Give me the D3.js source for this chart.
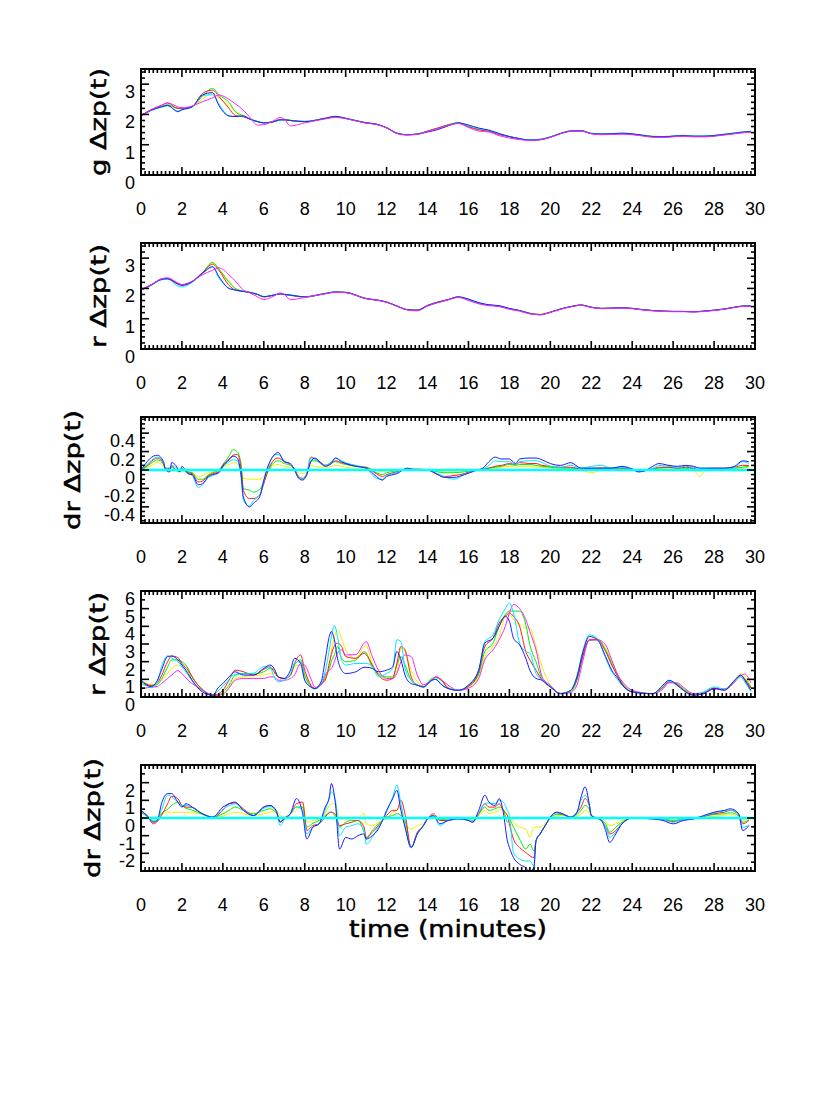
<!DOCTYPE html>
<html><head><meta charset="utf-8">
<script src="https://cdn.jsdelivr.net/npm/d3@7"></script>
<style>body{margin:0;background:#fff}</style>
</head><body>
<svg id="c" width="830" height="1106"></svg>
<script>
// ---------- tick labels ----------
const xTickValues = [0,2,4,6,8,10,12,14,16,18,20,22,24,26,28,30];
const xTickLabels = ["0","2","4","6","8","10","12","14","16","18","20","22","24","26","28","30"];
const yTicksG = [0,1,2,3], yLabelsG = ["0","1","2","3"];
const yTicksDr1 = [-0.4,-0.2,0,0.2,0.4], yLabelsDr1 = ["-0.4","-0.2","0","0.2","0.4"];
const yTicksR2 = [0,1,2,3,4,5,6], yLabelsR2 = ["0","1","2","3","4","5","6"];
const yTicksDr2 = [-2,-1,0,1,2], yLabelsDr2 = ["-2","-1","0","1","2"];
const panelTitles = ["g  \u0394zp(t)","r  \u0394zp(t)","dr  \u0394zp(t)","r  \u0394zp(t)","dr  \u0394zp(t)"];
const xTitle = "time  (minutes)";

// ---------- panel 1 & 2 (g, r) ----------
const t12 = [0,0.5,1,1.3,1.8,2,2.5,3,3.5,3.8,4.3,4.6,5,5.3,5.7,6,6.5,6.8,7,7.3,8,9,9.5,10,11,11.5,12,12.5,13,13.5,14,14.5,15,15.5,16,16.5,17,17.5,18,18.5,19,19.5,20,20.5,21,21.5,22,22.5,23,23.5,24,24.5,25,25.5,26,26.5,27,27.5,28,28.5,29,29.5,29.8];

const p1Blue = [1.95,2.14,2.25,2.3,2.09,2.15,2.25,2.64,2.72,2.3, 1.95,1.93,1.95,1.85,1.76,1.72,1.76,1.82,1.82,1.8, 1.76,1.87,1.93,1.87,1.72,1.68,1.56,1.38,1.33,1.35, 1.42,1.5,1.62,1.72,1.65,1.55,1.48,1.37,1.27,1.2, 1.15,1.17,1.25,1.37,1.45,1.46,1.37,1.35,1.36,1.38, 1.36,1.31,1.27,1.26,1.28,1.3,1.28,1.28,1.3,1.34, 1.38,1.42,1.43];
const p1Cyan = [1.95,2.13,2.24,2.28,2.12,2.16,2.25,2.62,2.65,2.35, 1.95,1.93,1.95,1.85,1.76,1.72,1.76,1.81,1.82,1.8, 1.77,1.87,1.92,1.87,1.72,1.67,1.56,1.39,1.33,1.35, 1.43,1.52,1.63,1.72,1.63,1.53,1.47,1.36,1.27,1.2, 1.16,1.18,1.26,1.37,1.45,1.46,1.37,1.35,1.36,1.37, 1.35,1.31,1.27,1.26,1.28,1.3,1.28,1.28,1.3,1.34, 1.38,1.42,1.43];
const p1Green = [1.97,2.15,2.26,2.32,2.2,2.2,2.26,2.6,2.86,2.65, 2.4,2.1,1.95,1.86,1.77,1.73,1.77,1.83,1.83,1.81, 1.77,1.88,1.94,1.88,1.73,1.68,1.56,1.38,1.33,1.36, 1.45,1.55,1.66,1.73,1.61,1.51,1.46,1.35,1.27,1.2, 1.16,1.18,1.26,1.38,1.46,1.47,1.38,1.36,1.37,1.38, 1.36,1.32,1.28,1.27,1.29,1.31,1.29,1.29,1.31,1.35, 1.39,1.43,1.44];
const p1Yellow = [1.96,2.14,2.25,2.3,2.2,2.19,2.25,2.5,2.7,2.55, 2.3,2.1,1.97,1.86,1.76,1.72,1.76,1.82,1.82,1.79, 1.76,1.87,1.93,1.87,1.72,1.68,1.56,1.38,1.33,1.35, 1.45,1.55,1.65,1.72,1.6,1.5,1.45,1.34,1.27,1.2, 1.15,1.17,1.25,1.37,1.45,1.46,1.37,1.35,1.36,1.37, 1.35,1.3,1.23,1.25,1.27,1.29,1.27,1.27,1.29,1.33, 1.37,1.41,1.42];
const p1Red = [1.96,2.16,2.3,2.38,2.2,2.2,2.26,2.69,2.8,2.6, 2.2,1.97,1.92,1.85,1.76,1.72,1.77,1.83,1.83,1.8, 1.76,1.87,1.93,1.87,1.72,1.68,1.56,1.38,1.33,1.35, 1.45,1.55,1.65,1.71,1.59,1.49,1.44,1.33,1.26,1.19, 1.15,1.17,1.25,1.37,1.45,1.46,1.37,1.34,1.35,1.36, 1.34,1.3,1.26,1.25,1.27,1.29,1.27,1.27,1.29,1.33, 1.37,1.41,1.42];
const p1Magenta = [1.95,2.16,2.3,2.38,2.25,2.22,2.28,2.42,2.55,2.64, 2.5,2.35,2.14,1.92,1.65,1.66,1.8,1.9,1.85,1.62, 1.72,1.85,1.9,1.86,1.71,1.67,1.55,1.37,1.32,1.34, 1.44,1.53,1.63,1.7,1.57,1.45,1.42,1.3,1.22,1.17, 1.14,1.16,1.24,1.36,1.44,1.45,1.36,1.33,1.34,1.35, 1.33,1.29,1.25,1.24,1.26,1.28,1.26,1.26,1.28,1.32, 1.36,1.4,1.41];

const p2Blue = [1.94,2.11,2.3,2.32,2.14,2.1,2.22,2.5,2.72,2.4, 2.0,1.95,1.9,1.87,1.8,1.73,1.78,1.82,1.8,1.78, 1.72,1.83,1.88,1.87,1.66,1.62,1.55,1.42,1.3,1.28, 1.43,1.54,1.63,1.72,1.65,1.53,1.46,1.43,1.34,1.27, 1.17,1.13,1.21,1.32,1.4,1.45,1.38,1.34,1.35,1.36, 1.34,1.3,1.27,1.25,1.24,1.24,1.23,1.25,1.28,1.32, 1.38,1.42,1.42];
const p2Cyan = [1.94,2.1,2.28,2.3,2.08,2.05,2.2,2.48,2.7,2.35, 2.0,1.95,1.9,1.87,1.8,1.73,1.78,1.82,1.8,1.78, 1.72,1.83,1.88,1.86,1.66,1.61,1.55,1.42,1.3,1.27, 1.42,1.53,1.62,1.71,1.64,1.52,1.45,1.42,1.33,1.26, 1.17,1.13,1.21,1.32,1.4,1.45,1.38,1.34,1.35,1.36, 1.34,1.3,1.27,1.25,1.24,1.24,1.23,1.25,1.28,1.32, 1.38,1.42,1.42];
const p2Green = [1.95,2.12,2.3,2.33,2.16,2.12,2.23,2.52,2.86,2.65, 2.2,2.0,1.91,1.88,1.8,1.73,1.79,1.83,1.81,1.78, 1.73,1.84,1.89,1.87,1.67,1.62,1.55,1.42,1.3,1.28, 1.44,1.55,1.63,1.72,1.63,1.52,1.45,1.42,1.33,1.27, 1.18,1.14,1.22,1.32,1.4,1.45,1.38,1.34,1.35,1.36, 1.34,1.3,1.27,1.25,1.24,1.24,1.23,1.25,1.28,1.32, 1.38,1.42,1.42];
const p2Yellow = [1.95,2.11,2.3,2.32,2.16,2.12,2.22,2.5,2.84,2.6, 2.25,2.0,1.91,1.87,1.8,1.72,1.78,1.82,1.8,1.77, 1.72,1.83,1.88,1.87,1.67,1.62,1.55,1.42,1.3,1.28, 1.44,1.55,1.63,1.71,1.62,1.51,1.44,1.41,1.32,1.26, 1.17,1.14,1.22,1.32,1.4,1.45,1.38,1.34,1.35,1.36, 1.34,1.3,1.26,1.25,1.24,1.24,1.23,1.25,1.28,1.32, 1.38,1.42,1.42];
const p2Red = [1.95,2.12,2.31,2.33,2.16,2.12,2.23,2.52,2.8,2.6, 2.1,1.95,1.9,1.87,1.8,1.72,1.78,1.82,1.8,1.77, 1.72,1.83,1.88,1.87,1.67,1.62,1.55,1.42,1.3,1.28, 1.44,1.55,1.63,1.72,1.63,1.52,1.45,1.42,1.33,1.27, 1.18,1.14,1.22,1.32,1.4,1.45,1.38,1.34,1.35,1.36, 1.34,1.3,1.27,1.25,1.24,1.24,1.23,1.25,1.28,1.32, 1.38,1.42,1.42];
const p2Magenta = [1.94,2.12,2.32,2.35,2.18,2.13,2.24,2.45,2.6,2.68, 2.45,2.25,1.95,1.86,1.72,1.63,1.75,1.85,1.8,1.63, 1.7,1.82,1.87,1.86,1.66,1.61,1.54,1.41,1.29,1.26, 1.42,1.53,1.62,1.7,1.6,1.49,1.43,1.4,1.31,1.25, 1.16,1.13,1.21,1.31,1.39,1.44,1.37,1.33,1.34,1.35, 1.33,1.29,1.26,1.24,1.23,1.23,1.22,1.24,1.27,1.31, 1.37,1.41,1.41];

// ---------- panel 3 (dr, small) ----------
const t3 = [0,0.3,0.6,0.8,1.1,1.2,1.4,1.5,1.7,1.9, 2.0,2.3,2.5,2.8,3,3.3,3.5,3.8,4,4.3, 4.5,4.7,4.9,5.0,5.3,5.5,5.8,6.0,6.2,6.5, 6.7,7,7.3,7.5,7.7,7.9,8.1,8.3,8.5,8.8, 9,9.3,9.5,9.8,10,10.5,11,11.5,11.8,12, 12.5,13,13.5,14,14.5,14.8,15.3,15.8,16.3,16.7, 17,17.3,17.6,18,18.3,18.5,19,19.3,19.6,20, 20.5,21,21.5,22,22.5,23,23.5,24,24.3,24.6, 25,25.3,25.8,26.2,26.6,27,27.3,27.6,28,28.5, 29,29.4,29.7];
const p3Blue = [0,0.09,0.15,0.16,0.09,0.0,-0.02,0.08,0.05,-0.02, 0.04,-0.04,-0.05,-0.16,-0.15,-0.07,-0.05,-0.03,0.04,0.11, 0.15,0.13,-0.07,-0.29,-0.4,-0.36,-0.29,-0.11,0.04,0.16, 0.19,0.09,0.07,0.0,-0.09,-0.11,-0.05,0.09,0.13,0.07, 0.04,0.07,0.13,0.09,0.07,0.04,0.02,-0.07,-0.11,-0.07, -0.04,0.02,0.0,0.0,-0.05,-0.08,-0.08,-0.05,-0.01,0.02, 0.09,0.14,0.12,0.12,0.07,0.12,0.13,0.13,0.11,0.07, 0.05,0.08,0.02,0.02,0.02,0.02,0.04,0.01,-0.02,-0.01, 0.04,0.07,0.05,0.04,0.05,0.04,0.02,0.02,0.02,0.02, 0.04,0.1,0.09];
const p3Cyan = [0,0.06,0.12,0.14,0.08,0.0,-0.02,0.05,0.03,-0.02, 0.02,-0.04,-0.06,-0.19,-0.16,-0.08,-0.06,-0.03,0.03,0.09, 0.11,0.1,-0.1,-0.33,-0.39,-0.33,-0.27,-0.12,0.02,0.16, 0.17,0.1,0.06,0.0,-0.08,-0.1,-0.04,0.13,0.12,0.07, 0.05,0.09,0.13,0.1,0.08,0.05,0.02,-0.09,-0.1,-0.06, -0.03,0.01,0.0,0.0,-0.04,-0.07,-0.1,-0.05,-0.01,0.01, 0.05,0.1,0.09,0.09,0.06,0.09,0.1,0.1,0.08,0.04, 0.03,0.05,0.02,0.04,0.05,0.02,0.03,0.01,-0.01,0.0, 0.02,0.05,0.04,0.03,0.04,0.03,0.02,0.02,0.02,0.01, 0.03,0.09,0.07];
const p3Red = [0,0.05,0.11,0.13,0.07,0.01,0.02,0.05,0.0,-0.01, 0.01,-0.03,-0.04,-0.13,-0.12,-0.06,-0.04,-0.02,0.05,0.12, 0.16,0.17,0.0,-0.22,-0.31,-0.31,-0.27,-0.15,-0.01,0.11, 0.13,0.09,0.06,0.01,-0.07,-0.09,-0.04,0.14,0.12,0.08, 0.05,0.07,0.1,0.08,0.07,0.04,0.03,-0.04,-0.07,-0.05, -0.02,0.01,0.01,0.0,-0.05,-0.07,-0.06,-0.04,0.0,0.01, 0.02,0.04,0.05,0.07,0.06,0.08,0.07,0.07,0.05,0.04, 0.03,0.03,0.01,0.02,0.02,0.02,0.02,0.01,-0.02,-0.01, 0.01,0.03,0.03,0.02,0.03,0.02,0.0,0.01,0.02,0.02, 0.03,0.05,0.05];
const p3Green = [0,0.04,0.09,0.11,0.06,0.02,0.02,0.03,0.0,-0.02, 0.0,-0.02,-0.03,-0.1,-0.1,-0.05,-0.03,0.0,0.06,0.15, 0.22,0.2,0.05,-0.2,-0.22,-0.24,-0.21,-0.13,-0.02,0.08, 0.1,0.07,0.05,0.01,-0.08,-0.1,-0.05,0.1,0.1,0.07, 0.05,0.08,0.09,0.07,0.06,0.04,0.03,-0.03,-0.05,-0.03, -0.01,0.01,0.0,0.0,-0.02,-0.03,-0.03,-0.02,0.0,0.01, 0.02,0.03,0.04,0.06,0.05,0.06,0.06,0.05,0.04,0.03, 0.02,0.02,0.01,0.01,0.02,0.02,0.02,0.01,0.0,0.0, 0.01,0.02,0.03,0.02,0.02,0.01,-0.01,0.0,0.01,0.01, 0.02,0.03,0.04];
const p3Yellow = [0,0.03,0.06,0.08,0.04,0.01,0.0,0.01,-0.01,-0.02, -0.01,-0.02,-0.03,-0.07,-0.06,-0.03,-0.02,0.0,0.03,0.06, 0.08,0.07,-0.02,-0.09,-0.1,-0.1,-0.1,-0.07,-0.01,0.05, 0.06,0.04,0.03,0.01,-0.03,-0.04,-0.02,0.05,0.04,0.03, 0.03,0.04,0.05,0.04,0.03,0.02,0.02,0.0,-0.02,-0.01, 0.0,0.0,0.0,0.0,-0.01,-0.02,-0.02,-0.01,0.0,0.01, 0.02,0.02,0.03,0.04,0.03,0.04,0.04,0.03,0.03,0.02, 0.01,0.01,0.0,-0.03,0.0,0.01,0.01,0.0,0.0,0.0, 0.01,0.01,0.02,0.01,0.01,0.0,-0.07,0.0,0.01,0.01, 0.01,0.02,0.03];

// ---------- panel 4 (r, large) ----------
const t4 = [0,0.5,0.8,1,1.3,1.5,1.8,2,2.3,2.5, 3,3.5,3.8,4,4.3,4.6,5,5.5,6,6.3, 6.5,6.7,7,7.3,7.5,7.8,8,8.3,8.5,8.8, 9,9.2,9.3,9.45,9.6,9.8,10,10.5,10.9,11, 11.3,11.6,12,12.3,12.5,12.7,12.9,13.2,13.5,13.8, 14.2,14.4,14.7,15,15.5,16,16.5,16.8,17.2,17.5, 17.8,18,18.2,18.5,18.8,19,19.3,19.6,20,20.5, 21,21.3,21.6,21.9,22.3,22.7,23,23.3,23.6,24, 25,25.5,25.8,26.2,26.5,27,27.5,28,28.5,29, 29.3,29.5,29.8];
const p4Blue = [0.9,0.6,0.95,1.52,2.29,2.32,2.1,1.81,1.33,0.95, 0.29,0.1,0.57,0.76,1.14,1.43,1.24,1.24,1.62,1.81, 1.62,1.14,1.05,1.52,2.19,1.9,0.95,0.57,0.48,0.86, 2.1,3.43,3.71,3.24,2.19,1.52,1.33,1.43,1.68,1.68, 1.62,1.43,1.52,1.71,2.57,2.1,1.24,0.76,0.67,0.57, 0.95,1.0,0.67,0.48,0.38,0.67,1.52,3.05,3.33,4.0, 4.57,4.29,3.33,2.95,2.19,1.52,1.05,0.95,0.57,0.19, 0.38,1.14,2.57,3.43,3.24,2.29,1.52,1.05,0.57,0.29, 0.19,0.67,0.95,0.67,0.38,0.1,0.19,0.48,0.38,0.95, 1.24,0.95,0.38];
const p4Cyan = [1.0,0.55,0.85,1.71,2.33,2.2,2.0,1.7,1.25,0.9, 0.3,0.12,0.38,0.6,1.0,1.3,1.3,1.35,1.71,1.7, 1.14,0.86,0.95,1.33,1.9,2.0,0.95,0.55,0.45,0.8, 1.43,2.67,3.4,4.04,3.43,2.1,1.81,1.9,1.9,1.9, 1.75,1.14,1.33,1.62,3.24,3.14,1.62,0.95,0.7,0.55, 0.9,1.0,0.7,0.48,0.38,0.67,1.55,3.14,3.52,4.38, 5.0,5.33,4.76,3.05,2.57,2.48,1.33,0.95,0.57,0.19, 0.38,1.2,2.67,3.52,3.3,2.2,1.43,0.95,0.55,0.29, 0.19,0.6,0.9,0.65,0.38,0.1,0.3,0.57,0.45,0.9, 1.14,0.85,0.3];
const p4Red = [0.95,0.65,0.8,1.2,2.0,2.32,2.23,1.9,1.52,1.14, 0.4,0.1,0.19,0.38,0.95,1.52,1.43,1.24,1.57,1.71, 1.43,1.14,1.05,1.24,1.9,2.38,1.52,0.67,0.48,0.76, 0.95,1.9,2.4,2.9,3.05,2.86,2.29,2.19,2.48,2.4, 1.81,1.24,0.95,1.05,1.9,2.86,2.67,1.14,0.67,0.6, 0.95,1.14,0.95,0.5,0.38,0.6,1.43,2.86,3.33,4.19, 4.57,4.76,4.57,4.0,2.57,2.1,1.52,0.95,0.57,0.19, 0.38,1.05,2.38,3.24,3.24,2.57,1.81,1.14,0.6,0.29, 0.19,0.55,0.85,0.7,0.4,0.12,0.2,0.5,0.4,0.85, 1.24,1.0,0.5];
const p4Green = [0.76,0.6,0.7,1.0,1.7,2.1,2.1,2.0,1.62,1.14, 0.45,0.1,0.1,0.29,0.67,1.24,1.33,1.3,1.43,1.62, 1.57,1.14,1.05,1.24,1.81,2.1,1.24,0.6,0.48,0.7, 1.05,1.6,2.0,2.4,2.86,2.19,2.0,2.1,2.57,2.5, 1.68,1.33,1.14,1.14,1.81,2.29,1.81,0.95,0.67,0.57, 1.05,1.1,0.9,0.5,0.38,0.6,1.3,2.57,3.05,4.0, 4.67,4.86,4.86,4.86,4.1,2.95,2.0,1.0,0.6,0.2, 0.3,0.95,2.3,3.2,3.24,2.67,1.9,1.2,0.65,0.3, 0.19,0.55,0.85,0.75,0.45,0.15,0.25,0.5,0.45,0.9, 1.2,1.05,0.55];
const p4Yellow = [0.95,0.7,0.75,0.95,1.33,1.62,1.8,1.71,1.43,0.95, 0.4,0.12,0.1,0.2,0.55,1.05,1.14,1.2,1.24,1.33, 1.35,1.14,1.05,1.2,1.71,1.81,1.24,0.6,0.48,0.7, 1.14,1.81,2.6,3.4,3.81,3.33,2.67,2.19,2.86,2.9, 1.9,1.3,1.05,1.1,1.43,2.76,2.57,1.52,0.86,0.6, 0.95,1.1,0.95,0.55,0.38,0.55,1.14,2.29,2.86,3.43, 4.57,4.67,4.38,4.1,3.9,3.9,2.86,1.71,0.67,0.2, 0.3,0.95,2.57,3.24,3.33,2.76,2.0,1.24,0.67,0.3, 0.19,0.5,0.85,0.75,0.5,0.15,0.25,0.45,0.45,0.9, 1.33,1.2,0.6];
const p4Magenta = [0.48,0.55,0.6,0.76,1.05,1.24,1.49,1.33,0.95,0.76, 0.4,0.12,0.1,0.15,0.5,0.95,1.05,1.05,1.05,1.14, 1.14,0.95,0.95,1.05,1.24,1.9,1.81,1.05,0.55,0.67, 1.24,1.52,1.6,2.0,2.48,2.67,2.38,2.4,3.05,3.14, 2.29,1.52,1.05,1.05,1.33,2.0,2.38,2.29,1.24,0.7, 0.95,1.14,0.95,0.67,0.38,0.5,1.05,2.1,2.67,3.24, 4.0,4.76,5.24,5.0,4.38,3.71,2.67,1.14,0.67,0.2, 0.25,0.67,2.1,3.24,3.24,2.95,2.1,1.24,0.76,0.38, 0.19,0.45,0.8,0.8,0.55,0.2,0.25,0.45,0.45,0.85, 1.2,1.3,0.8];

// ---------- panel 5 (dr, large) ----------
const t5 = [0,0.3,0.6,0.8,1,1.3,1.5,1.8,2,2.2, 2.5,3,3.5,4,4.3,4.6,5,5.5,6,6.3, 6.6,6.8,7,7.3,7.6,7.9,8.1,8.4,8.7,9, 9.2,9.3,9.5,9.7,10,10.3,10.6,10.9,11,11.3, 11.6,11.8,12,12.3,12.5,12.7,12.9,13.2,13.5,13.8, 14,14.3,14.6,15,15.5,16,16.2,16.5,16.8,17, 17.3,17.5,17.7,17.9,18,18.2,18.5,18.8,19,19.2, 19.3,19.5,19.8,20,20.3,20.6,21,21.3,21.5,21.7, 21.9,22,22.5,22.7,22.9,23.2,23.5,24,25,25.5, 26,26.5,27,27.5,28,28.5,28.8,29.2,29.4,29.7];
const p5Blue = [0.43,0.14,-0.24,-0.14,0.81,1.38,1.38,0.9,0.62,0.81, 0.62,0.24,0.05,0.62,0.81,0.9,0.43,0.14,0.62,0.71, 0.43,-0.24,-0.05,0.24,1.1,0.24,-1.19,-0.52,-0.33,0.62, 1.19,1.95,0.81,-1.76,-1.1,-1.19,-1.0,-0.9,-1.19,-1.0, -0.62,-0.14,0.43,1.1,1.57,0.43,-0.52,-1.67,-0.9,-0.43, -0.05,0.14,-0.33,-0.14,-0.05,-0.14,-0.24,0.43,1.29,0.9, 0.71,1.1,0.33,-1.29,-1.67,-2.24,-2.62,-2.81,-3.0,-2.8, -1.29,-0.9,-0.33,0.05,0.33,0.24,0.05,0.33,1.19,1.76, 0.81,0.14,-0.14,-0.71,-1.38,-0.9,-0.33,0.0,-0.05,-0.14, -0.33,-0.14,-0.05,0.14,0.33,0.43,0.52,0.24,-0.71,-0.43];
const p5Cyan = [0.3,0.14,-0.14,-0.05,0.43,1.29,1.19,0.9,0.71,0.71, 0.6,0.24,0.05,0.5,0.7,0.8,0.45,0.14,0.55,0.65, 0.4,-0.43,-0.1,0.24,0.62,0.43,-0.9,-0.5,-0.33,0.43, 1.1,1.48,1.0,-1.0,-0.52,-0.43,-0.33,-0.71,-1.48,-1.1, -0.5,-0.14,0.33,1.19,1.86,0.81,-0.43,-1.67,-0.9,-0.4, -0.05,0.1,-0.43,-0.14,-0.05,-0.1,-0.2,0.3,0.81,0.85, 0.81,1.0,0.9,0.43,0.14,-1.95,-2.33,-2.43,-2.43,-2.71, -1.29,-0.9,-0.33,0.05,0.3,0.24,0.05,0.3,1.0,1.29, 0.8,0.14,-0.14,-0.5,-1.1,-0.8,-0.3,0.0,-0.05,-0.1, -0.24,-0.1,-0.05,0.1,0.3,0.4,0.45,0.2,-0.52,-0.4];
const p5Red = [0.33,0.1,-0.33,-0.2,0.14,0.81,1.23,1.1,0.71,0.62, 0.6,0.24,0.05,0.43,0.81,0.85,0.52,0.14,0.62,0.71, 0.4,-0.2,0.0,0.24,0.81,0.9,-0.71,-0.43,-0.33,0.05, 0.3,0.33,0.2,-0.43,-0.33,-0.24,-0.14,-0.52,-1.1,-0.81, -0.43,-0.14,0.14,0.43,0.43,1.0,0.24,-1.67,-0.81,-0.43, -0.05,0.24,-0.14,-0.14,-0.05,-0.14,-0.24,0.24,0.81,0.62, 0.62,0.81,0.43,0.14,-0.33,-1.19,-1.67,-1.95,-2.14,-2.24, -1.29,-0.9,-0.33,0.05,0.3,0.2,0.05,0.3,0.62,1.1, 0.71,0.14,-0.14,-0.52,-0.9,-0.71,-0.33,0.0,-0.05,-0.1, -0.2,-0.1,-0.05,0.1,0.24,0.33,0.43,0.2,-0.33,-0.14];
const p5Green = [0.33,0.1,-0.2,-0.1,0.24,0.5,0.71,0.9,0.71,0.55, 0.45,0.2,0.05,0.24,0.43,0.62,0.43,0.24,0.43,0.52, 0.3,0.0,0.0,0.24,0.62,0.62,-0.52,-0.3,-0.14,0.14, 0.3,0.33,0.05,-0.52,-0.24,-0.14,-0.14,-0.81,-1.19,-0.71, -0.33,-0.14,0.05,0.14,0.24,0.14,-0.14,-1.67,-0.9,-0.43, -0.05,0.05,-0.1,-0.05,0.0,-0.05,-0.14,0.2,0.62,0.43, 0.52,0.62,0.5,-0.24,-0.1,-0.52,-1.19,-1.76,-1.48,-1.86, -1.29,-0.9,-0.33,0.0,0.2,0.2,0.05,0.2,0.43,0.71, 0.5,0.14,-0.1,-0.33,-0.81,-0.52,-0.24,0.0,-0.05,-0.05, -0.14,-0.05,0.0,0.1,0.2,0.24,0.3,0.14,-0.24,-0.1];
const p5Yellow = [0.3,0.1,0.0,0.05,0.24,0.33,0.33,0.33,0.33,0.3, 0.3,0.24,0.05,0.1,0.24,0.33,0.24,0.14,0.24,0.33, 0.43,0.14,0.05,0.24,0.43,0.81,-0.24,-0.14,-0.05,0.24, 0.71,0.81,0.81,-0.05,-0.05,-0.05,0.0,0.24,-0.33,-0.43, -0.24,-0.14,-0.05,0.33,0.43,0.62,-0.24,-0.62,-0.43,-0.3, -0.05,0.05,0.0,-0.05,0.0,0.0,-0.05,0.1,0.43,0.24, 0.33,0.43,0.5,0.14,0.05,-0.24,-0.52,-0.62,-1.1,-0.52, -0.5,-0.52,-0.24,0.0,0.1,0.14,0.05,0.1,0.2,0.43, 0.3,0.05,0.0,-0.2,-0.43,-0.33,-0.14,0.0,0.0,0.0, -0.05,0.0,0.0,0.05,0.1,0.14,0.2,0.1,-0.1,-0.05];

// ---------- layout ----------
const svg = d3.select("#c");
const L = 141, R = 755, H = 106;
const tops = [69, 243, 417, 591, 765];
const titleX = [106, 106, 80, 105, 100];
const COL = {blue:"#1a1aff", cyan:"#00e8ff", green:"#00ee00", yellow:"#f0f000", red:"#ff1a1a", magenta:"#ff20ff"};

const panels = [
  {t:t12, dom:[0,3.5], ticks:yTicksG, labels:yLabelsG, minor:0.2,
   series:[["yellow",p1Yellow],["green",p1Green],["red",p1Red],["cyan",p1Cyan],["blue",p1Blue],["magenta",p1Magenta]], zero:false, tlen:108},
  {t:t12, dom:[0,3.5], ticks:yTicksG, labels:yLabelsG, minor:0.2,
   series:[["yellow",p2Yellow],["green",p2Green],["red",p2Red],["cyan",p2Cyan],["blue",p2Blue],["magenta",p2Magenta]], zero:false, tlen:104},
  {t:t3, dom:[-0.575,0.575], ticks:yTicksDr1, labels:yLabelsDr1, minor:0.05,
   series:[["yellow",p3Yellow],["green",p3Green],["red",p3Red],["cyan",p3Cyan],["blue",p3Blue]], zero:true, tlen:120},
  {t:t4, dom:[0,6], ticks:yTicksR2, labels:yLabelsR2, minor:0.5,
   series:[["yellow",p4Yellow],["green",p4Green],["red",p4Red],["magenta",p4Magenta],["cyan",p4Cyan],["blue",p4Blue]], zero:false, tlen:104},
  {t:t5, dom:[-3,3], ticks:yTicksDr2, labels:yLabelsDr2, minor:0.5,
   series:[["yellow",p5Yellow],["green",p5Green],["red",p5Red],["cyan",p5Cyan],["blue",p5Blue]], zero:true, tlen:120}
];

const x = d3.scaleLinear().domain([0,30]).range([L,R]);
const xMinor = d3.range(0, 30.0001, 0.2).filter(v => Math.abs(v/2 - Math.round(v/2)) > 1e-6);

panels.forEach((p, i) => {
  const top = tops[i], bot = top + H;
  const y = d3.scaleLinear().domain(p.dom).range([bot, top]);
  const g = svg.append("g");
  const cid = "clip" + i;
  svg.append("clipPath").attr("id", cid).append("rect")
    .attr("x", L).attr("y", top).attr("width", R - L).attr("height", H);

  // data lines
  const line = d3.line().x((d) => x(d[0])).y((d) => y(d[1])).curve(d3.curveMonotoneX);
  const lg = g.append("g").attr("clip-path", `url(#${cid})`);
  p.series.forEach(([c, vals]) => {
    lg.append("path").datum(p.t.map((tt, k) => [tt, vals[k]]))
      .attr("d", line).attr("fill", "none").attr("stroke", COL[c]).attr("stroke-width", 1);
  });
  if (p.zero) {
    lg.append("line").attr("x1", L).attr("x2", R).attr("y1", y(0)).attr("y2", y(0))
      .attr("stroke", "#00ffff").attr("stroke-width", 2.6);
  }

  // ticks
  const tk = g.append("g").attr("stroke", "#000").attr("stroke-width", 1.6);
  xMinor.forEach(v => {
    tk.append("line").attr("x1", x(v)).attr("x2", x(v)).attr("y1", top).attr("y2", top + 4);
    tk.append("line").attr("x1", x(v)).attr("x2", x(v)).attr("y1", bot).attr("y2", bot - 4);
  });
  xTickValues.forEach(v => {
    tk.append("line").attr("x1", x(v)).attr("x2", x(v)).attr("y1", top).attr("y2", top + 8);
    tk.append("line").attr("x1", x(v)).attr("x2", x(v)).attr("y1", bot).attr("y2", bot - 8);
  });
  const ym = [];
  const start = Math.ceil((p.dom[0] - 1e-9) / p.minor) * p.minor;
  for (let v = start; v <= p.dom[1] + 1e-9; v += p.minor) ym.push(+v.toFixed(4));
  ym.forEach(v => {
    if (p.ticks.some(tv => Math.abs(tv - v) < 1e-6)) return;
    tk.append("line").attr("x1", L).attr("x2", L + 4).attr("y1", y(v)).attr("y2", y(v));
    tk.append("line").attr("x1", R).attr("x2", R - 4).attr("y1", y(v)).attr("y2", y(v));
  });
  p.ticks.forEach(v => {
    tk.append("line").attr("x1", L).attr("x2", L + 8).attr("y1", y(v)).attr("y2", y(v));
    tk.append("line").attr("x1", R).attr("x2", R - 8).attr("y1", y(v)).attr("y2", y(v));
  });

  // frame
  g.append("rect").attr("x", L).attr("y", top).attr("width", R - L).attr("height", H)
    .attr("fill", "none").attr("stroke", "#000").attr("stroke-width", 2);

  // tick labels
  const lab = g.append("g").attr("font-family", "'Liberation Sans', Arial, sans-serif")
    .attr("font-size", 18).attr("fill", "#000");
  p.ticks.forEach((v, k) => {
    lab.append("text").attr("x", 135).attr("y", y(v) + 14).attr("text-anchor", "end").text(p.labels[k]);
  });
  xTickValues.forEach((v, k) => {
    lab.append("text").attr("x", x(v)).attr("y", bot + 40).attr("text-anchor", "middle").text(xTickLabels[k]);
  });

  // y title
  const cy = top + H / 2;
  g.append("text").attr("transform", `translate(${titleX[i]},${cy}) rotate(-90)`)
    .attr("text-anchor", "middle").attr("font-family", "'DejaVu Sans', sans-serif")
    .attr("font-size", 21).attr("fill", "#000").attr("stroke", "#000").attr("stroke-width", 0.5)
    .attr("textLength", p.tlen).attr("lengthAdjust", "spacingAndGlyphs")
    .text(panelTitles[i]);
});

svg.append("text").attr("x", (L + R) / 2).attr("y", 937).attr("text-anchor", "middle")
  .attr("font-family", "'DejaVu Sans', sans-serif").attr("font-size", 23).attr("fill", "#000")
  .attr("stroke", "#000").attr("stroke-width", 0.5)
  .attr("textLength", 198).attr("lengthAdjust", "spacingAndGlyphs")
  .text(xTitle);
</script>
</body></html>
